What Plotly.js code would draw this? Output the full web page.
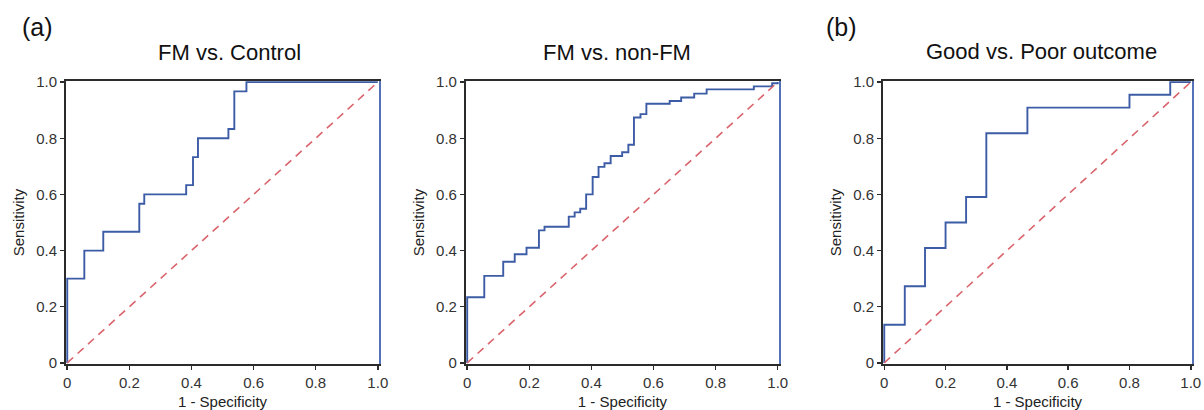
<!DOCTYPE html>
<html>
<head>
<meta charset="utf-8">
<script src="https://cdn.plot.ly/plotly-3.0.1.min.js"></script>
<style>html,body{margin:0;padding:0;background:#fff;}#chart{width:1204px;height:410px;}</style>
</head>
<body>
<div id="chart"></div>
<script>
// Panel (a) left: FM vs. Control  (1 - specificity, sensitivity)
var fmControlFpr = [0, 0, 0.055, 0.116, 0.232, 0.248, 0.383, 0.405, 0.421, 0.519, 0.538, 0.577, 1];
var fmControlTpr = [0, 0.300, 0.400, 0.467, 0.567, 0.600, 0.633, 0.733, 0.800, 0.833, 0.967, 1.000, 1];

// Panel (a) right: FM vs. non-FM
var fmNonFmFpr = [0, 0, 0.055, 0.116, 0.153, 0.191, 0.231, 0.249, 0.327, 0.346, 0.364, 0.383, 0.404, 0.423, 0.442, 0.462, 0.499, 0.519, 0.537, 0.558, 0.577, 0.652, 0.689, 0.731, 0.771, 0.923, 0.982, 1];
var fmNonFmTpr = [0, 0.234, 0.310, 0.360, 0.387, 0.410, 0.472, 0.485, 0.521, 0.536, 0.549, 0.600, 0.662, 0.698, 0.711, 0.737, 0.750, 0.777, 0.874, 0.886, 0.923, 0.933, 0.945, 0.959, 0.974, 0.985, 0.996, 1];

// Panel (b): Good vs. Poor outcome
var outcomeFpr = [0, 0, 0.067, 0.133, 0.200, 0.267, 0.333, 0.467, 0.800, 0.933, 1];
var outcomeTpr = [0, 0.136, 0.273, 0.409, 0.500, 0.591, 0.818, 0.909, 0.955, 1.000, 1];

// Reference (chance) line
var refX = [0, 1];
var refY = [0, 1];

var panelTitles = ["FM vs. Control", "FM vs. non-FM", "Good vs. Poor outcome"];
var panelLabels = ["(a)", "(b)"];
var tickVals = [0, 0.2, 0.4, 0.6, 0.8, 1.0];
var tickText = ["0", "0.2", "0.4", "0.6", "0.8", "1.0"];
var xTitle = "1 - Specificity";
var yTitle = "Sensitivity";

var FONT = "Liberation Sans, Arial, Helvetica, sans-serif";
var CURVE = "#3d5ca6";
var EDGE = "#5472b8";
var RED = "#d9646c";
var AX = "#2b2b2b";
var RANGE = [-0.004, 1.004];

var curves = [[fmControlFpr, fmControlTpr], [fmNonFmFpr, fmNonFmTpr], [outcomeFpr, outcomeTpr]];
var data = [];
curves.forEach(function (c, i) {
  var xa = i === 0 ? "x" : "x" + (i + 1);
  var ya = i === 0 ? "y" : "y" + (i + 1);
  var yEdge = "y" + (i + 4);
  data.push({x: refX, y: refY, xaxis: xa, yaxis: yEdge, type: "scatter", mode: "lines",
    line: {color: RED, width: 1.6, dash: "8px,6px"}, hoverinfo: "skip"});
  data.push({x: c[0], y: c[1], xaxis: xa, yaxis: ya, type: "scatter", mode: "lines",
    line: {color: CURVE, width: 1.9, shape: "hv"}});
});

function xAxis(domain, anchor) {
  return {domain: domain, anchor: anchor, range: RANGE, tickmode: "array", tickvals: tickVals, ticktext: tickText,
    ticks: "outside", ticklen: 4, tickwidth: 1.5, tickcolor: AX, showline: true, linecolor: AX, linewidth: 2,
    mirror: true, showgrid: false, zeroline: false, tickfont: {family: FONT, size: 15, color: "#333"},
    layer: "below traces", ticklabeloverflow: "allow",
    title: {text: xTitle, font: {family: FONT, size: 15, color: "#222"}, standoff: 8}};
}
function yAxis(anchor) {
  return {domain: [0, 1], anchor: anchor, range: RANGE, tickmode: "array", tickvals: tickVals, ticktext: tickText,
    ticks: "outside", ticklen: 4, tickwidth: 1.5, tickcolor: AX, showline: true, linecolor: AX, linewidth: 2,
    mirror: false, showgrid: false, zeroline: false, tickfont: {family: FONT, size: 15, color: "#333"},
    layer: "below traces",
    title: {text: yTitle, font: {family: FONT, size: 15, color: "#222"}, standoff: 8}};
}
function edgeAxis(over, anchor) {
  return {overlaying: over, anchor: anchor, side: "right", range: RANGE, showline: true, linecolor: EDGE,
    linewidth: 2, ticks: "", showticklabels: false, showgrid: false, zeroline: false, layer: "below traces"};
}

var layout = {
  width: 1204, height: 410, margin: {l: 66, r: 12, t: 81, b: 46},
  paper_bgcolor: "#fff", plot_bgcolor: "#fff", showlegend: false,
  font: {family: FONT, color: "#222"},
  xaxis: xAxis([0, 0.2780], "y"), yaxis: yAxis("x"),
  xaxis2: xAxis([0.3552, 0.6332], "y2"), yaxis2: yAxis("x2"),
  xaxis3: xAxis([0.7256, 1], "y3"), yaxis3: yAxis("x3"),
  yaxis4: edgeAxis("y", "x"), yaxis5: edgeAxis("y2", "x2"), yaxis6: edgeAxis("y3", "x3"),
  annotations: [
    {text: panelTitles[0], xref: "paper", yref: "paper", x: 0.1448, y: 1.0 + 28 / 283, xanchor: "center", yanchor: "middle", showarrow: false, font: {family: FONT, size: 22, color: "#111"}},
    {text: panelTitles[1], xref: "paper", yref: "paper", x: 0.4893, y: 1.0 + 28 / 283, xanchor: "center", yanchor: "middle", showarrow: false, font: {family: FONT, size: 22, color: "#111"}},
    {text: panelTitles[2], xref: "paper", yref: "paper", x: 0.8660, y: 1.0 + 29 / 283, xanchor: "center", yanchor: "middle", showarrow: false, font: {family: FONT, size: 22, color: "#111"}},
    {text: panelLabels[0], xref: "paper", yref: "paper", x: -0.0253, y: 1.0 + 54 / 283, xanchor: "center", yanchor: "middle", showarrow: false, font: {family: FONT, size: 25, color: "#111"}},
    {text: panelLabels[1], xref: "paper", yref: "paper", x: 0.6883, y: 1.0 + 54 / 283, xanchor: "center", yanchor: "middle", showarrow: false, font: {family: FONT, size: 25, color: "#111"}}
  ]
};

Plotly.newPlot("chart", data, layout, {displayModeBar: false, staticPlot: true});
</script>
</body>
</html>
